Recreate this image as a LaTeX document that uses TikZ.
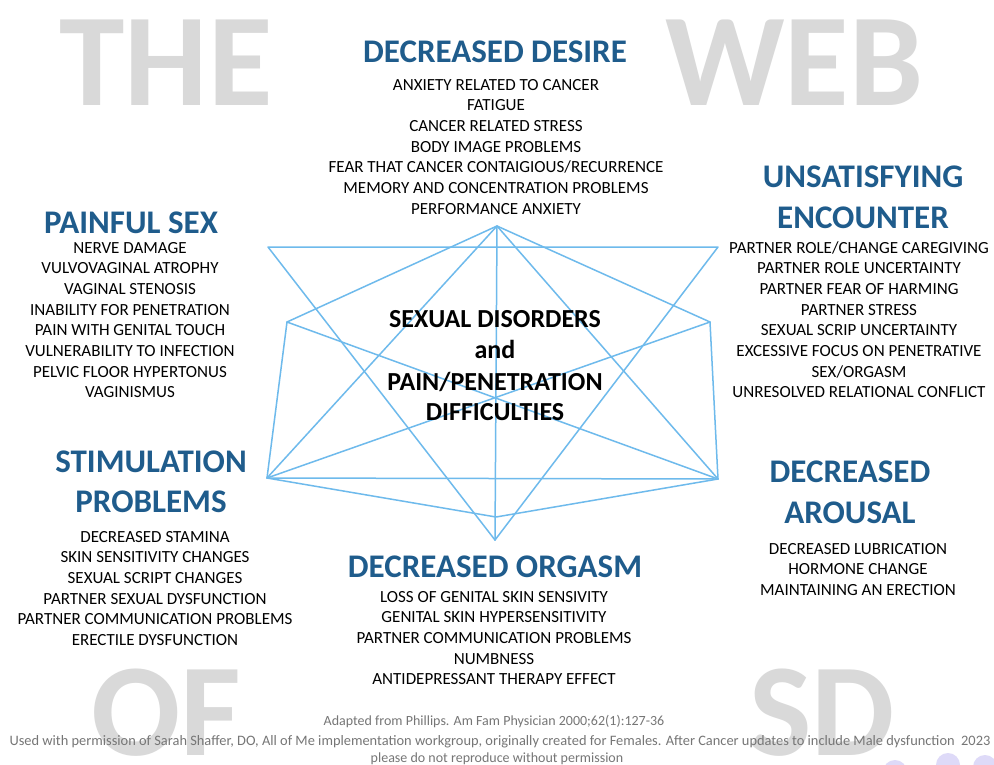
\documentclass[tikz,border=0pt]{standalone}
\usepackage{fontspec}
\setmainfont{Carlito}
\definecolor{titleblue}{RGB}{31,92,140}
\definecolor{webblue}{RGB}{110,186,236}
\definecolor{biggray}{RGB}{217,217,217}
\definecolor{footgray}{RGB}{118,118,118}
\definecolor{lav}{RGB}{222,218,248}
\tikzset{
  big/.style={text=biggray, font=\fontsize{132}{132}\selectfont\bfseries, inner sep=0pt, anchor=base},
  ttl/.style={text=titleblue, font=\fontsize{33}{36}\selectfont\bfseries, inner sep=0pt, anchor=base},
  item/.style={text=black, font=\fontsize{17}{20}\selectfont, inner sep=0pt, anchor=base},
  core/.style={text=black, font=\fontsize{26}{30}\selectfont\bfseries, inner sep=0pt, anchor=base},
  foot/.style={text=footgray, font=\fontsize{14}{16}\selectfont, inner sep=0pt, anchor=base},
  web/.style={draw=webblue, line width=1.5pt, line join=round, line cap=round},
  dot/.style={fill=lav, draw=none}
}
\begin{document}
\begin{tikzpicture}[x=1pt,y=-1pt]
\useasboundingbox (0,0) rectangle (994,764);
\fill[white] (0,0) rectangle (994,764);
\begin{scope}
\clip (0,0) rectangle (994,764);
\node[big] (the) at (166,105) {THE};
\node[big] (webw) at (794,105) {WEB};
\node[big] (of) at (166,755) {OF};
\node[big] (sd) at (822,755) {SD};
\fill[dot] (895,772) circle (12);
\fill[dot] (948,765) circle (12);
\fill[dot] (985,767) circle (12);
\end{scope}

% web
\coordinate (T) at (497,226);
\coordinate (UL) at (268,247);
\coordinate (UR) at (718,247);
\coordinate (ML) at (287,322);
\coordinate (MR) at (710,322);
\coordinate (BL) at (267,478);
\coordinate (BR) at (718,479);
\coordinate (BI) at (496,517);
\coordinate (B) at (495,540);
\draw[web] (UL) -- (UR) -- (B) -- cycle;
\draw[web] (T) -- (BL) -- (BR) -- cycle;
\draw[web] (T) -- (B);
\draw[web] (ML) -- (T) -- (MR);
\draw[web] (ML) -- (BR);
\draw[web] (MR) -- (BL);
\draw[web] (ML) -- (BL);
\draw[web] (MR) -- (BR);
\draw[web] (BL) -- (BI) -- (BR);

% decreased desire
\node[ttl] (ddt) at (495,62) {DECREASED DESIRE};
\foreach \t [count=\i] in {ANXIETY RELATED TO CANCER, FATIGUE, CANCER RELATED STRESS, BODY IMAGE PROBLEMS, FEAR THAT CANCER CONTAIGIOUS/RECURRENCE, MEMORY AND CONCENTRATION PROBLEMS, PERFORMANCE ANXIETY}
  \node[item] (dd\i) at (496,{69.3+20.7*\i}) {\t};

% painful sex
\node[ttl] (pst) at (131,233) {PAINFUL SEX};
\foreach \t [count=\i] in {NERVE DAMAGE, VULVOVAGINAL ATROPHY, VAGINAL STENOSIS, INABILITY FOR PENETRATION, PAIN WITH GENITAL TOUCH, VULNERABILITY TO INFECTION, PELVIC FLOOR HYPERTONUS, VAGINISMUS}
  \node[item] (ps\i) at (130,{232.3+20.7*\i}) {\t};

% unsatisfying encounter
\node[ttl] (uet1) at (863,187) {UNSATISFYING};
\node[ttl] (uet2) at (863,228) {ENCOUNTER};
\foreach \t [count=\i] in {PARTNER ROLE/CHANGE CAREGIVING, PARTNER ROLE UNCERTAINTY, PARTNER FEAR OF HARMING, PARTNER STRESS, SEXUAL SCRIP UNCERTAINTY, EXCESSIVE FOCUS ON PENETRATIVE, SEX/ORGASM, UNRESOLVED RELATIONAL CONFLICT}
  \node[item] (ue\i) at (859,{232.3+20.7*\i}) {\t};

% core
\node[core] (c1) at (495,327) {SEXUAL DISORDERS};
\node[core] (c2) at (495,358) {and};
\node[core] (c3) at (495,390) {PAIN/PENETRATION};
\node[core] (c4) at (495,420) {DIFFICULTIES};

% stimulation problems
\node[ttl] (spt1) at (151,472) {STIMULATION};
\node[ttl] (spt2) at (151,512) {PROBLEMS};
\foreach \t [count=\i] in {DECREASED STAMINA, SKIN SENSITIVITY CHANGES, SEXUAL SCRIPT CHANGES, PARTNER SEXUAL DYSFUNCTION, PARTNER COMMUNICATION PROBLEMS, ERECTILE DYSFUNCTION}
  \node[item] (sp\i) at (155,{521.3+20.7*\i}) {\t};

% decreased arousal
\node[ttl] (dat1) at (850,482) {DECREASED};
\node[ttl] (dat2) at (850,523) {AROUSAL};
\foreach \t [count=\i] in {DECREASED LUBRICATION, HORMONE CHANGE, MAINTAINING AN ERECTION}
  \node[item] (da\i) at (858,{533.3+20.7*\i}) {\t};

% decreased orgasm
\node[ttl] (dot) at (495,577) {DECREASED ORGASM};
\foreach \t [count=\i] in {LOSS OF GENITAL SKIN SENSIVITY, GENITAL SKIN HYPERSENSITIVITY, PARTNER COMMUNICATION PROBLEMS, NUMBNESS, ANTIDEPRESSANT THERAPY EFFECT}
  \node[item] (do\i) at (494,{581.3+20.7*\i}) {\t};

% footer
\node[foot] (f1) at (494,725) {Adapted from Phillips. Am Fam Physician 2000;62(1):127-36};
\node[foot, font=\fontsize{14.4}{16}\selectfont] (f2) at (500,745) {Used with permission of Sarah Shaffer, DO, All of Me implementation workgroup, originally created for Females. After Cancer updates to include Male dysfunction\ \ 2023};
\node[foot] (f3) at (497,762) {please do not reproduce without permission};
\end{tikzpicture}
\end{document}
